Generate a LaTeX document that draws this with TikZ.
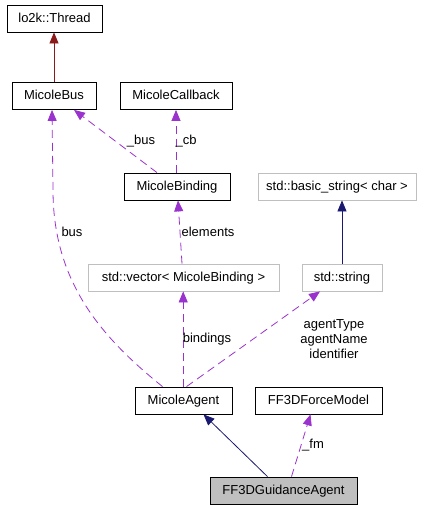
\documentclass[tikz,border=0pt]{standalone}
\usepackage{fontspec}
\setmainfont{Liberation Sans}
\usetikzlibrary{arrows.meta}
\definecolor{dep}{HTML}{9A32CD}
\definecolor{inhred}{HTML}{8B1A1A}
\definecolor{inhblue}{HTML}{191970}
\definecolor{graybd}{HTML}{BFBFBF}
\begin{document}
\begin{tikzpicture}[x=1pt,y=-1pt,
  every node/.style={font=\fontsize{13}{15}\selectfont},
  cls/.style={draw=black, line width=0.8pt, inner sep=0pt, minimum height=27pt, text height=9.5pt, text depth=2.5pt},
  ext/.style={cls, draw=graybd},
  cur/.style={cls, fill=graybd},
  depline/.style={draw=dep, line width=0.8pt, dash pattern=on 8pt off 5pt, -{Triangle[length=11pt,width=9pt]}},
  inhR/.style={draw=inhred, line width=0.8pt, -{Triangle[length=11pt,width=9pt]}},
  inhB/.style={draw=inhblue, line width=0.8pt, -{Triangle[length=11pt,width=9pt]}},
  lbl/.style={inner sep=0pt, align=center}
]
\useasboundingbox (0,0) rectangle (431,509);
\node[cls, minimum width=95pt] (thread) at (54.5,18.5) {lo2k::Thread};
\node[cls, minimum width=84pt] (bus) at (54,96) {MicoleBus};
\node[cls, minimum width=112pt] (cb) at (176,96) {MicoleCallback};
\node[cls, minimum width=106pt] (binding) at (177,186.5) {MicoleBinding};
\node[ext, minimum width=158pt] (bstr) at (337,186.5) {std::basic\_string< char >};
\node[ext, minimum width=191pt] (vec) at (183.5,277.5) {std::vector< MicoleBinding >};
\node[ext, minimum width=80pt] (str) at (342,277.5) {std::string};
\node[cls, minimum width=97pt] (agent) at (183.5,400.5) {MicoleAgent};
\node[cls, minimum width=127pt] (ffm) at (318.5,400.5) {FF3DForceModel};
\node[cur, minimum width=147pt] (guid) at (283.5,490.5) {FF3DGuidanceAgent};

\draw[inhR] (bus.north) -- (bus.north |- thread.south);
\draw[depline] ([xshift=-20pt]binding.north) -- ([xshift=20pt]bus.south);
\node[lbl] at (141,141) {\_bus};
\draw[depline] (binding.north -| cb.south) -- (cb.south);
\node[lbl] at (186,141) {\_cb};
\draw[depline] ([xshift=-1.5pt]vec.north) -- ([xshift=1pt]binding.south);
\node[lbl] at (208,232) {elements};
\draw[depline] ([xshift=-21pt]agent.north) .. controls (105,340) and (53,285) .. (53,190) -- ([xshift=-2pt]bus.south);
\node[lbl] at (72,232) {bus};
\draw[depline] ([xshift=-0.3pt]agent.north) -- ([xshift=-0.3pt]agent.north |- vec.south);
\node[lbl] at (207,339) {bindings};
\draw[depline] ([xshift=3pt]agent.north) -- ([xshift=-22pt]str.south);
\node[lbl] at (334,339) {agentType\\agentName\\identifier};
\draw[inhB] (str.north) -- (str.north |- bstr.south);
\draw[inhB] ([xshift=-16pt]guid.north) -- ([xshift=20pt]agent.south);
\draw[depline] ([xshift=8pt]guid.north) -- ([xshift=-8pt]ffm.south);
\node[lbl] at (313,445) {\_fm};
\end{tikzpicture}
\end{document}
